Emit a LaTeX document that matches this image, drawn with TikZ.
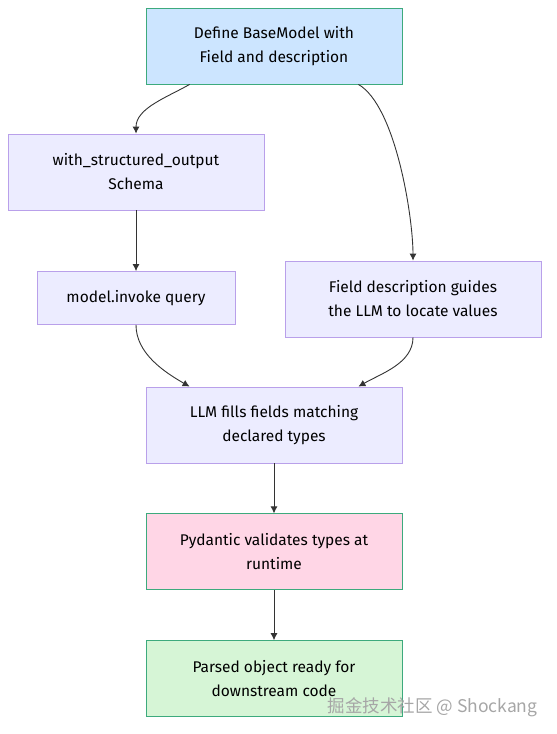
\documentclass[tikz,border=0pt]{standalone}
\usepackage{fontspec}
\setmainfont{Fira Sans}
\newfontfamily\cjk{Noto Sans CJK SC}
\usetikzlibrary{positioning,arrows.meta}
\definecolor{lav}{HTML}{ECECFF}
\definecolor{lavline}{HTML}{B9A0EA}
\definecolor{skyfill}{HTML}{CCE5FF}
\definecolor{pinkfill}{HTML}{FFD6E6}
\definecolor{mintfill}{HTML}{D6F5D6}
\definecolor{greenline}{HTML}{3DAA7D}
\definecolor{wire}{HTML}{333333}
\begin{document}
\begin{tikzpicture}[x=1pt,y=-1pt,
      link/.style={draw=wire,line width=0.9pt,-{Latex[length=7pt,width=7pt]}},
      main node/.style={rectangle,draw=lavline,fill=lav,line width=0.8pt,
        minimum width=256pt,minimum height=76pt,align=center,
        font=\fontsize{15.5}{24}\selectfont,text=black},
      green node/.style={main node,draw=greenline}]
 \useasboundingbox (0,0) rectangle (557,734);
 \node[green node, fill=skyfill] (define) at (274,46) {Define BaseModel with\\Field and description};
 \node[main node] (schema) at (136,172) {with\_structured\_output\\Schema};
 \node[main node, minimum width=198pt, minimum height=53pt] (invoke) at (136,298) {model.invoke query};
 \node[main node] (guides) at (413,299) {Field description guides\\the LLM to locate values};
 \node[main node] (fills) at (274,425) {LLM fills fields matching\\declared types};
 \node[green node, fill=pinkfill] (validate) [below=50pt of fills] {Pydantic validates types at\\runtime};
 \node[green node, fill=mintfill] (parsed) [below=50pt of validate] {Parsed object ready for\\downstream code};
 \node[anchor=base east, text=gray!70, font=\cjk\fontsize{17.5}{19}\selectfont] (mark) at (541,712) {掘金技术社区 @ Shockang};

 \draw[link] ([xshift=44pt]define.south west) to[out=-150, in=90, looseness=0.9] (schema.north);
 \draw[link] ([xshift=-44pt]define.south east) to[out=-30, in=90, looseness=0.6] (guides.north);
 \draw[link] (schema) -- (invoke);
 \draw[link] (invoke.south) to[out=-90, in=150, looseness=0.9] ([xshift=44pt]fills.north west);
 \draw[link] (guides.south) to[out=-90, in=30, looseness=0.9] ([xshift=-44pt]fills.north east);
 \draw[link] (fills) -- (validate);
 \draw[link] (validate) -- (parsed);
\end{tikzpicture}
\end{document}
